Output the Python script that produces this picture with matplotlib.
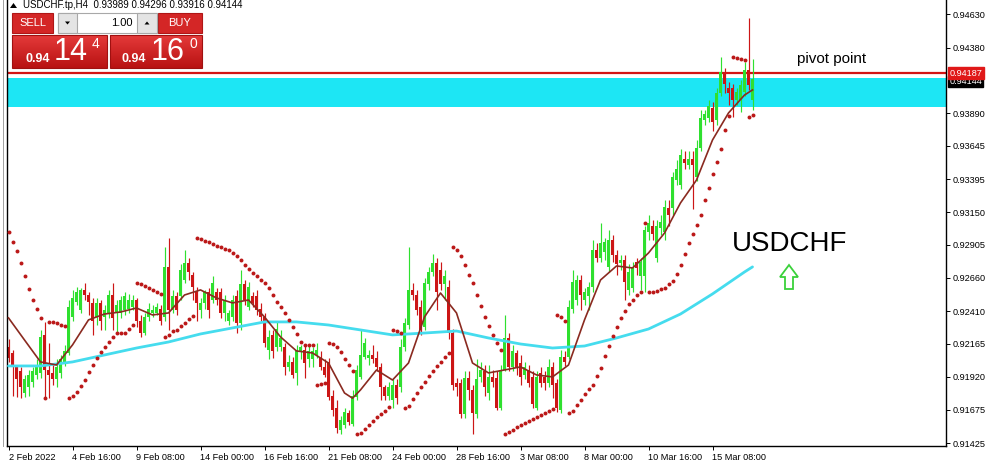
import numpy as np
import matplotlib
matplotlib.use("Agg")
import matplotlib.pyplot as plt
from matplotlib.patches import Rectangle, Polygon
from matplotlib.colors import LinearSegmentedColormap

plt.rcParams['font.family'] = ['Liberation Sans', 'DejaVu Sans']

# ---- data: USDCHF H4 candles, 2 Feb 2022 .. 15 Mar 2022 (last bar open) ----
opens = [
    0.9214, 0.9210, 0.9199, 0.9196, 0.9180, 0.9184, 0.9188, 0.9193, 0.9195, 0.9223,
    0.9197, 0.9195, 0.9190, 0.9195, 0.9202, 0.9210, 0.9237, 0.9248, 0.9242, 0.9257,
    0.9253, 0.9247, 0.9237, 0.9247, 0.9237, 0.9240, 0.9253, 0.9240, 0.9240, 0.9242,
    0.9243, 0.9244, 0.9249, 0.9234, 0.9225, 0.9237, 0.9240, 0.9240, 0.9243, 0.9237,
    0.9274, 0.9242, 0.9252, 0.9252, 0.9264, 0.9277, 0.9268, 0.9255, 0.9242, 0.9247,
    0.9255, 0.9249, 0.9255, 0.9255, 0.9240, 0.9234, 0.9237, 0.9252, 0.9232, 0.9261,
    0.9244, 0.9252, 0.9252, 0.9243, 0.9237, 0.9212, 0.9223, 0.9214, 0.9214, 0.9214,
    0.9199, 0.9203, 0.9195, 0.9211, 0.9212, 0.9205, 0.9205, 0.9208, 0.9206, 0.9199,
    0.9203, 0.9178, 0.9169, 0.9152, 0.9156, 0.9165, 0.9157, 0.9177, 0.9192, 0.9207,
    0.9206, 0.9208, 0.9206, 0.9199, 0.9184, 0.9178, 0.9175, 0.9186, 0.9184, 0.9214,
    0.9231, 0.9257, 0.9253, 0.9244, 0.9229, 0.9261, 0.9270, 0.9277, 0.9272, 0.9261,
    0.9259, 0.9225, 0.9187, 0.9187, 0.9164, 0.9191, 0.9182, 0.9164, 0.9192, 0.9196,
    0.9180, 0.9192, 0.9191, 0.9169, 0.9197, 0.9221, 0.9199, 0.9210, 0.9202, 0.9193,
    0.9197, 0.9192, 0.9169, 0.9195, 0.9192, 0.9187, 0.9199, 0.9187, 0.9167, 0.9207,
    0.9207, 0.9243, 0.9249, 0.9264, 0.9249, 0.9252, 0.9259, 0.9287, 0.9281, 0.9285,
    0.9274, 0.9294, 0.9283, 0.9277, 0.9279, 0.9257, 0.9258, 0.9278, 0.9267, 0.9267,
    0.9300, 0.9305, 0.9281, 0.9303, 0.9300, 0.9318, 0.9318, 0.9339, 0.9335, 0.9355,
    0.9350, 0.9355, 0.9341, 0.9363, 0.9384, 0.9385, 0.9393, 0.9384, 0.9404, 0.9420,
    0.9408, 0.9408, 0.9399, 0.9399, 0.9405, 0.9421, 0.93989]
highs = [
    0.9220, 0.9212, 0.9201, 0.9199, 0.9193, 0.9197, 0.9199, 0.9205, 0.9227, 0.9233,
    0.9217, 0.9201, 0.9205, 0.9208, 0.9216, 0.9249, 0.9257, 0.9259, 0.9258, 0.9262,
    0.9255, 0.9251, 0.9251, 0.9249, 0.9246, 0.9257, 0.9262, 0.9249, 0.9252, 0.9255,
    0.9254, 0.9253, 0.9251, 0.9238, 0.9240, 0.9247, 0.9246, 0.9247, 0.9246, 0.9289,
    0.9296, 0.9257, 0.9255, 0.9276, 0.9287, 0.9281, 0.9270, 0.9259, 0.9251, 0.9257,
    0.9258, 0.9267, 0.9258, 0.9258, 0.9253, 0.9242, 0.9253, 0.9257, 0.9272, 0.9264,
    0.9263, 0.9255, 0.9257, 0.9247, 0.9240, 0.9227, 0.9227, 0.9233, 0.9227, 0.9217,
    0.9208, 0.9207, 0.9216, 0.9216, 0.9216, 0.9216, 0.9214, 0.9217, 0.9211, 0.9205,
    0.9206, 0.9182, 0.9175, 0.9163, 0.9169, 0.9167, 0.9182, 0.9201, 0.9227, 0.9221,
    0.9212, 0.9216, 0.9211, 0.9202, 0.9186, 0.9188, 0.9190, 0.9190, 0.9220, 0.9236,
    0.9289, 0.9262, 0.9257, 0.9249, 0.9266, 0.9274, 0.9284, 0.9281, 0.9278, 0.9272,
    0.9264, 0.9228, 0.9191, 0.9190, 0.9196, 0.9196, 0.9186, 0.9205, 0.9203, 0.9201,
    0.9201, 0.9197, 0.9196, 0.9201, 0.9238, 0.9225, 0.9216, 0.9212, 0.9208, 0.9203,
    0.9201, 0.9196, 0.9196, 0.9199, 0.9196, 0.9205, 0.9203, 0.9190, 0.9212, 0.9211,
    0.9249, 0.9272, 0.9268, 0.9268, 0.9258, 0.9263, 0.9294, 0.9292, 0.9307, 0.9296,
    0.9302, 0.9298, 0.9287, 0.9283, 0.9283, 0.9276, 0.9278, 0.9281, 0.9281, 0.9305,
    0.9313, 0.9309, 0.9309, 0.9313, 0.9324, 0.9324, 0.9345, 0.9354, 0.9362, 0.9361,
    0.9361, 0.9361, 0.9369, 0.9391, 0.9391, 0.9399, 0.9397, 0.9408, 0.9431, 0.9423,
    0.9412, 0.9411, 0.9408, 0.9414, 0.9427, 0.9460, 0.94296]
lows = [
    0.9203, 0.9178, 0.9177, 0.9176, 0.9177, 0.9178, 0.9184, 0.9190, 0.9191, 0.9177,
    0.9176, 0.9186, 0.9184, 0.9191, 0.9200, 0.9208, 0.9234, 0.9246, 0.9240, 0.9249,
    0.9238, 0.9223, 0.9231, 0.9227, 0.9227, 0.9236, 0.9227, 0.9225, 0.9236, 0.9238,
    0.9240, 0.9242, 0.9229, 0.9222, 0.9223, 0.9234, 0.9237, 0.9238, 0.9231, 0.9234,
    0.9227, 0.9240, 0.9238, 0.9249, 0.9262, 0.9264, 0.9249, 0.9234, 0.9236, 0.9243,
    0.9236, 0.9247, 0.9246, 0.9236, 0.9234, 0.9231, 0.9234, 0.9225, 0.9227, 0.9246,
    0.9242, 0.9244, 0.9238, 0.9234, 0.9214, 0.9205, 0.9206, 0.9211, 0.9211, 0.9193,
    0.9196, 0.9191, 0.9186, 0.9205, 0.9191, 0.9199, 0.9199, 0.9206, 0.9197, 0.9192,
    0.9175, 0.9163, 0.9150, 0.9149, 0.9154, 0.9156, 0.9155, 0.9175, 0.9190, 0.9205,
    0.9201, 0.9202, 0.9196, 0.9175, 0.9175, 0.9175, 0.9169, 0.9172, 0.9181, 0.9211,
    0.9228, 0.9249, 0.9238, 0.9223, 0.9227, 0.9257, 0.9267, 0.9242, 0.9257, 0.9249,
    0.9220, 0.9182, 0.9178, 0.9161, 0.9161, 0.9175, 0.9149, 0.9161, 0.9188, 0.9178,
    0.9175, 0.9184, 0.9167, 0.9167, 0.9196, 0.9196, 0.9196, 0.9193, 0.9186, 0.9190,
    0.9184, 0.9169, 0.9167, 0.9184, 0.9182, 0.9184, 0.9176, 0.9166, 0.9165, 0.9200,
    0.9205, 0.9240, 0.9246, 0.9242, 0.9246, 0.9242, 0.9255, 0.9278, 0.9278, 0.9279,
    0.9270, 0.9278, 0.9268, 0.9272, 0.9249, 0.9253, 0.9255, 0.9268, 0.9257, 0.9255,
    0.9294, 0.9294, 0.9278, 0.9298, 0.9294, 0.9305, 0.9313, 0.9335, 0.9332, 0.9347,
    0.9347, 0.9317, 0.9338, 0.9361, 0.9380, 0.9382, 0.9376, 0.9380, 0.9402, 0.9404,
    0.9395, 0.9386, 0.9395, 0.9390, 0.9402, 0.9406, 0.93916]
closes = [
    0.9206, 0.9199, 0.9190, 0.9184, 0.9190, 0.9193, 0.9196, 0.9199, 0.9222, 0.9197,
    0.9193, 0.9190, 0.9199, 0.9205, 0.9211, 0.9244, 0.9251, 0.9255, 0.9257, 0.9253,
    0.9248, 0.9234, 0.9247, 0.9234, 0.9242, 0.9253, 0.9236, 0.9246, 0.9249, 0.9252,
    0.9249, 0.9249, 0.9234, 0.9225, 0.9237, 0.9243, 0.9242, 0.9244, 0.9234, 0.9274,
    0.9242, 0.9252, 0.9242, 0.9272, 0.9277, 0.9270, 0.9259, 0.9247, 0.9247, 0.9255,
    0.9242, 0.9262, 0.9249, 0.9240, 0.9249, 0.9240, 0.9249, 0.9232, 0.9261, 0.9249,
    0.9259, 0.9247, 0.9242, 0.9237, 0.9217, 0.9222, 0.9211, 0.9228, 0.9221, 0.9199,
    0.9203, 0.9193, 0.9212, 0.9214, 0.9202, 0.9211, 0.9211, 0.9212, 0.9199, 0.9193,
    0.9177, 0.9167, 0.9154, 0.9160, 0.9166, 0.9158, 0.9178, 0.9197, 0.9208, 0.9217,
    0.9208, 0.9205, 0.9199, 0.9184, 0.9178, 0.9184, 0.9186, 0.9176, 0.9214, 0.9232,
    0.9257, 0.9253, 0.9242, 0.9227, 0.9262, 0.9270, 0.9277, 0.9255, 0.9261, 0.9267,
    0.9225, 0.9186, 0.9184, 0.9164, 0.9191, 0.9182, 0.9165, 0.9190, 0.9197, 0.9184,
    0.9192, 0.9188, 0.9169, 0.9197, 0.9221, 0.9199, 0.9211, 0.9199, 0.9192, 0.9199,
    0.9187, 0.9172, 0.9192, 0.9187, 0.9187, 0.9199, 0.9186, 0.9169, 0.9207, 0.9203,
    0.9244, 0.9263, 0.9264, 0.9253, 0.9255, 0.9259, 0.9287, 0.9281, 0.9292, 0.9293,
    0.9294, 0.9283, 0.9276, 0.9279, 0.9263, 0.9270, 0.9274, 0.9273, 0.9278, 0.9302,
    0.9307, 0.9299, 0.9305, 0.9308, 0.9319, 0.9313, 0.9341, 0.9347, 0.9358, 0.9352,
    0.9355, 0.9350, 0.9363, 0.9385, 0.9388, 0.9394, 0.9382, 0.9404, 0.9420, 0.9411,
    0.9404, 0.9399, 0.9405, 0.9410, 0.9421, 0.9410, 0.94144]

# moving averages (bar index -> value)
fast_ma_bars = [0, 4, 8, 12, 16, 20, 24, 28, 32, 36, 40, 44, 48, 52, 56, 60, 64, 68,
                72, 76, 80, 84, 86, 88, 92, 96, 100, 104, 108, 112, 116, 120, 124, 128,
                132, 136, 140, 144, 148, 152, 156, 160, 164, 168, 172, 176, 180, 184, 186]
fast_ma = [0.92360, 0.92195, 0.92031, 0.92008, 0.92158, 0.92345, 0.92389, 0.92404,
           0.92434, 0.92382, 0.92397, 0.92531, 0.92569, 0.92509, 0.92472, 0.92494,
           0.92367, 0.92218, 0.92113, 0.92098, 0.92023, 0.91799, 0.91760, 0.91822,
           0.91971, 0.91896, 0.92023, 0.92367, 0.92546, 0.92397, 0.92023, 0.91949,
           0.91971, 0.91994, 0.91934, 0.91919, 0.92008, 0.92345, 0.92643, 0.92748,
           0.92733, 0.92845, 0.92994, 0.93219, 0.93390, 0.93689, 0.93891, 0.94025,
           0.94063]
slow_ma_bars = [0, 8, 16, 24, 32, 40, 48, 56, 64, 72, 80, 88, 96, 104, 112, 120,
                128, 136, 144, 152, 160, 168, 176, 184, 186]
slow_ma = [0.92001, 0.92001, 0.92031, 0.92083, 0.92135, 0.92180, 0.92240, 0.92285,
           0.92330, 0.92330, 0.92307, 0.92270, 0.92233, 0.92247, 0.92262, 0.92210,
           0.92165, 0.92135, 0.92150, 0.92210, 0.92277, 0.92389, 0.92539, 0.92703,
           0.92741]

pivot = 0.94187
bid = 0.94144
zone_low, zone_high = 0.93936, 0.94152

price_ticks = [0.94630, 0.94380, 0.93890, 0.93645, 0.93395, 0.93150, 0.92905,
               0.92660, 0.92410, 0.92165, 0.91920, 0.91675, 0.91425]
time_labels = ["2 Feb 2022", "4 Feb 16:00", "9 Feb 08:00", "14 Feb 00:00",
               "16 Feb 16:00", "21 Feb 08:00", "24 Feb 00:00", "28 Feb 16:00",
               "3 Mar 08:00", "8 Mar 00:00", "10 Mar 16:00", "15 Mar 08:00"]
bars_per_label = 16

header = "USDCHF.tp,H4  0.93989 0.94296 0.93916 0.94144"


def parabolic_sar(high, low, sar0, ep0, af0, step=0.02, af_max=0.2):
    # standard Wilder SAR, starting inside a down move
    n = len(high)
    sar = np.zeros(n)
    sar[0] = sar0
    up, ep, af = False, ep0, af0
    for i in range(1, n):
        s = sar[i - 1] + af * (ep - sar[i - 1])
        j = max(i - 2, 0)
        if up:
            s = min(s, low[i - 1], low[j])
            if low[i] < s:
                up, s, ep, af = False, ep, low[i], step
            elif high[i] > ep:
                ep, af = high[i], min(af + step, af_max)
        else:
            s = max(s, high[i - 1], high[j])
            if high[i] > s:
                up, s, ep, af = True, ep, high[i], step
            elif low[i] < ep:
                ep, af = low[i], min(af + step, af_max)
        sar[i] = s
    return sar


o = np.array(opens); h = np.array(highs); l = np.array(lows); c = np.array(closes)
idx = np.arange(len(c))
sar = parabolic_sar(h, l, sar0=0.9300, ep0=0.9178, af0=0.06)

W, H = 996, 467
fig = plt.figure(figsize=(W / 100, H / 100), dpi=100)
fig.patch.set_facecolor('white')

# main price pane: left 7px, right 946px, top 0, bottom 446px
ax = fig.add_axes([7 / W, (H - 446) / H, (946 - 7) / W, 446 / H])
ax.set_xlim(-0.375, (946 - 8.5) / 4)
ax.set_ylim(0.94735 - 446 * 7.471e-5, 0.94735)

ax.axhspan(zone_low, zone_high, color='#1de6f4', lw=0, zorder=0.5)
ax.axhline(pivot, color='#d41414', lw=1.6, zorder=1)

up_bar = c >= o
green, red = '#2fe02f', '#cc1616'
cols = np.where(up_bar, green, red)
ax.vlines(idx, l, h, colors=cols, lw=0.85, zorder=2)
body_h = np.maximum(np.abs(c - o), 0.00008)
ax.bar(idx, body_h, bottom=np.minimum(o, c), width=0.75, color=cols, lw=0, zorder=2.1)

ax.plot(slow_ma_bars, slow_ma, color='#45dcee', lw=2.0, zorder=3, solid_capstyle='round')
ax.plot(fast_ma_bars, fast_ma, color='#8a2a20', lw=1.2, zorder=3.2, solid_joinstyle='round')
ax.scatter(idx, sar, s=8, marker='o', color='#bb1818', lw=0, zorder=4)

# axes styling
for side in ['left', 'right', 'bottom']:
    ax.spines[side].set_color('black')
    ax.spines[side].set_linewidth(1.0)
ax.spines['top'].set_visible(False)
ax.yaxis.tick_right()
ax.set_yticks(price_ticks)
ax.set_yticklabels([f"{p:.5f}" for p in price_ticks])
ax.set_xticks(np.arange(len(time_labels)) * bars_per_label)
ax.set_xticklabels(time_labels)
for lab in ax.get_xticklabels():
    lab.set_horizontalalignment('left')
ax.tick_params(axis='both', direction='out', length=3, width=0.7, labelsize=6.6,
               colors='black', pad=2)

# price tags on the scale (bid tag sits just under the pivot tag)
ytr = ax.get_yaxis_transform()
ax.text(1.0035, bid - 0.00017, f"{bid:.5f}", transform=ytr, fontsize=6.6, color='white',
        va='center', ha='left', clip_on=False, zorder=10,
        bbox=dict(boxstyle='square,pad=0.15', fc='black', ec='black'))
ax.text(1.0035, pivot + 0.00002, f"{pivot:.5f}", transform=ytr, fontsize=6.6, color='white',
        va='center', ha='left', clip_on=False, zorder=11,
        bbox=dict(boxstyle='square,pad=0.15', fc='#e01818', ec='#e01818'))

# ---- overlay in pixel coordinates for the terminal widgets and notes ----
ov = fig.add_axes([0, 0, 1, 1])
ov.set_xlim(0, W)
ov.set_ylim(H, 0)
ov.axis('off')
ov.patch.set_alpha(0)

ov.plot([3, 3], [0, 446], color='#a0a0a0', lw=0.7)

ov.add_patch(Polygon([(10, 8), (13.5, 3), (17, 8)], closed=True, fc='black', ec='none'))
ov.text(23, 5.5, header, fontsize=7, color='black', va='center', ha='left')

btn_red = '#d42626'
ov.add_patch(Rectangle((12, 13), 41, 20, fc=btn_red, ec='#b01616', lw=0.8))
ov.text(32.5, 23.5, "SELL", fontsize=8, color='white', ha='center', va='center')
ov.add_patch(Rectangle((158, 13), 44, 20, fc=btn_red, ec='#b01616', lw=0.8))
ov.text(180, 23.5, "BUY", fontsize=8, color='white', ha='center', va='center')

ov.add_patch(Rectangle((58, 13), 99, 20, fc='white', ec='#a8a8a8', lw=0.8))
ov.add_patch(Rectangle((58, 13), 19, 20, fc='#e4e4e4', ec='#a8a8a8', lw=0.8))
ov.add_patch(Rectangle((137, 13), 20, 20, fc='#e4e4e4', ec='#a8a8a8', lw=0.8))
ov.add_patch(Polygon([(65, 21.5), (70, 21.5), (67.5, 24.5)], closed=True, fc='black', ec='none'))
ov.add_patch(Polygon([(144.5, 24.5), (149.5, 24.5), (147, 21.5)], closed=True, fc='black', ec='none'))
ov.text(133, 23.5, "1.00", fontsize=8, color='black', ha='right', va='center')

grad = LinearSegmentedColormap.from_list('btn', ['#e53a3a', '#b81212'])
g = np.linspace(0, 1, 64).reshape(-1, 1)
for x0, x1 in [(12, 107), (110, 202)]:
    ov.imshow(g, cmap=grad, extent=(x0, x1, 68, 35), aspect='auto', zorder=2)
    ov.add_patch(Rectangle((x0, 35), x1 - x0, 33, fc='none', ec='#a01010', lw=0.8, zorder=3))

ov.text(25, 58.5, "0.94", fontsize=9, fontweight='bold', color='white', ha='left', va='center', zorder=4)
ov.text(54, 52, "14", fontsize=22, color='white', ha='left', va='center', zorder=4)
ov.text(92, 44, "4", fontsize=10, color='white', ha='left', va='center', zorder=4)
ov.text(122, 58.5, "0.94", fontsize=9, fontweight='bold', color='white', ha='left', va='center', zorder=4)
ov.text(151, 52, "16", fontsize=22, color='white', ha='left', va='center', zorder=4)
ov.text(190, 44, "0", fontsize=10, color='white', ha='left', va='center', zorder=4)

ov.text(797, 59, "pivot point", fontsize=11, color='black', ha='left', va='center')
ov.text(732, 244, "USDCHF", fontsize=20, color='black', ha='left', va='center')
ov.add_patch(Polygon([(789, 265), (798, 277), (793, 277), (793, 289), (785, 289),
                      (785, 277), (780, 277)], closed=True, fc='white', ec='#3ad13a', lw=1.3))

fig.savefig('out.png', dpi=100, facecolor='white')
